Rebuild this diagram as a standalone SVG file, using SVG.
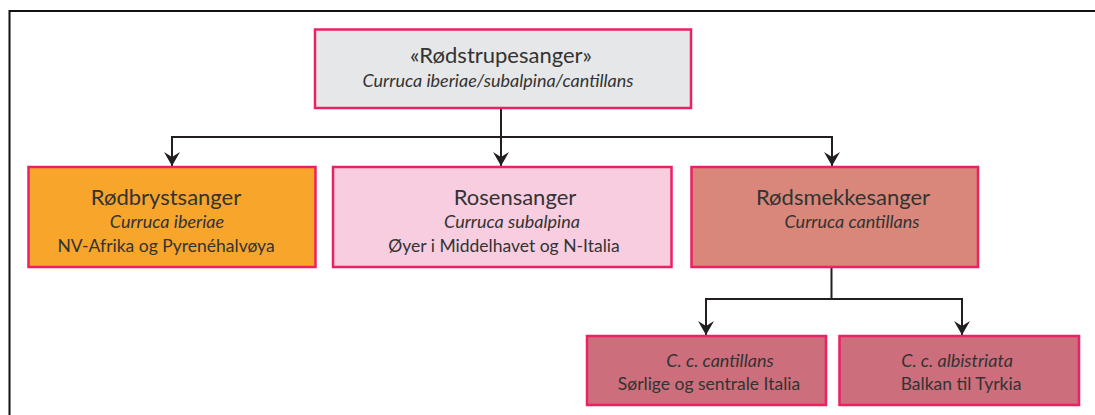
<svg xmlns="http://www.w3.org/2000/svg" width="1095" height="415" viewBox="0 0 1095 415">
<defs>
<style>
.box{stroke:#ec2163;stroke-width:2.5}
.t{font-family:Lato,"Liberation Sans",sans-serif;fill:#333;text-anchor:middle}
.h{font-size:22px}
.i{font-size:18px;font-style:italic}
.r{font-size:17.5px}
.c{fill:none;stroke:#231f20;stroke-width:2}
</style>
<marker id="arr" viewBox="-15 -9 16 18" refX="0" refY="0" markerWidth="16" markerHeight="18" markerUnits="userSpaceOnUse" orient="auto">
<path d="M0,0 L-14,-8 L-9,0 L-14,8 Z" fill="#231f20"/>
</marker>
</defs>
<rect width="1095" height="415" fill="#fff"/>
<path d="M9.5,415 V11 H1095" fill="none" stroke="#111" stroke-width="2"/>
<g id="connectors">
<path class="c" d="M501,108 V137 M171,137 H833"/>
<path class="c" d="M172,137 V166" marker-end="url(#arr)"/>
<path class="c" d="M501,137 V166" marker-end="url(#arr)"/>
<path class="c" d="M832,137 V166" marker-end="url(#arr)"/>
<path class="c" d="M831.5,267 V299 M705,299 H963"/>
<path class="c" d="M706,299 V335" marker-end="url(#arr)"/>
<path class="c" d="M962,299 V335" marker-end="url(#arr)"/>
</g>
<g id="top">
<rect class="box" x="315" y="29.5" width="376" height="78.5" fill="#e6e7e8"/>
<text class="t h" x="501" y="63">«Rødstrupesanger»</text>
<text class="t i" x="498" y="87">Curruca iberiae/subalpina/cantillans</text>
</g>
<g id="rodbryst">
<rect class="box" x="28.5" y="167" width="287" height="100" fill="#f7a52b"/>
<text class="t h" x="166" y="205">Rødbrystsanger</text>
<text class="t i" x="167" y="228">Curruca iberiae</text>
<text class="t r" x="166" y="252">NV-Afrika og Pyrenéhalvøya</text>
</g>
<g id="rosen">
<rect class="box" x="333" y="167" width="338.5" height="100" fill="#f8cde0"/>
<text class="t h" x="515" y="205">Rosensanger</text>
<text class="t i" x="512" y="228">Curruca subalpina</text>
<text class="t r" x="504" y="252">Øyer i Middelhavet og N-Italia</text>
</g>
<g id="rodsmekke">
<rect class="box" x="691.5" y="167" width="286.5" height="100" fill="#d9877a"/>
<text class="t h" x="843" y="205">Rødsmekkesanger</text>
<text class="t i" x="852" y="228">Curruca cantillans</text>
</g>
<g id="cantillans">
<rect class="box" x="587" y="336" width="239" height="69" fill="#cc6e7b"/>
<text class="t i" x="720" y="367">C. c. cantillans</text>
<text class="t r" x="709" y="390">Sørlige og sentrale Italia</text>
</g>
<g id="albistriata">
<rect class="box" x="839.5" y="336" width="239.5" height="69" fill="#cc6e7b"/>
<text class="t i" x="957" y="367">C. c. albistriata</text>
<text class="t r" x="961" y="390">Balkan til Tyrkia</text>
</g>
</svg>
